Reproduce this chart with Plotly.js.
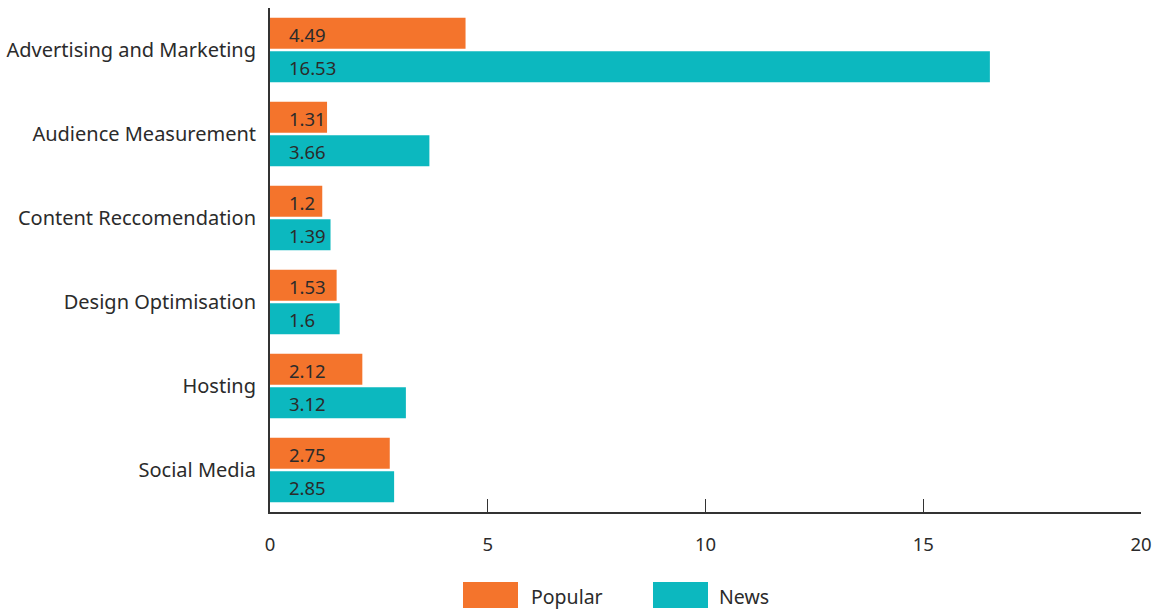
<!DOCTYPE html>
<html>
<head>
<meta charset="utf-8">
<script src="https://cdn.plot.ly/plotly-3.0.1.min.js"></script>
<style>html,body{margin:0;padding:0;background:#fff;}#chart{width:1156px;height:610px;}</style>
</head>
<body>
<div id="chart"></div>
<script>
const categories = ["Advertising and Marketing", "Audience Measurement", "Content Reccomendation", "Design Optimisation", "Hosting", "Social Media"];
const popular = [4.49, 1.31, 1.2, 1.53, 2.12, 2.75];
const news = [16.53, 3.66, 1.39, 1.6, 3.12, 2.85];
const seriesNames = ["Popular", "News"];
const xTicks = [0, 5, 10, 15, 20];

const orange = "#F4742C";
const teal = "#0CB8BF";
const textColor = "#2b2b2b";
const fontFamily = "'Noto Sans', 'Open Sans', sans-serif";

const traces = [
  {type: "bar", orientation: "h", name: seriesNames[0], y: categories, x: popular,
   marker: {color: orange}, hoverinfo: "x"},
  {type: "bar", orientation: "h", name: seriesNames[1], y: categories, x: news,
   marker: {color: teal}, hoverinfo: "x"}
];

const annotations = [];
const shiftPx = 16.8;
categories.forEach((c, i) => {
  annotations.push({x: 0, y: c, xref: "x", yref: "y", text: String(popular[i]), showarrow: false,
    xanchor: "left", yanchor: "middle", xshift: 17, yshift: shiftPx - 1,
    font: {family: fontFamily, size: 18.5, color: textColor}});
  annotations.push({x: 0, y: c, xref: "x", yref: "y", text: String(news[i]), showarrow: false,
    xanchor: "left", yanchor: "middle", xshift: 17, yshift: -shiftPx - 1,
    font: {family: fontFamily, size: 18.5, color: textColor}});
});

// manual legend (paper coords)
const plotL = 270, plotW = 871, plotT = 8, plotH = 504;
const px = v => (v - plotL) / plotW;
const py = v => (plotT + plotH - v) / plotH;
const legendItems = [
  {name: seriesNames[0], color: orange, x0: 463, x1: 518, tx: 529},
  {name: seriesNames[1], color: teal, x0: 653, x1: 708, tx: 717}
];
const shapes = [];
legendItems.forEach(it => {
  shapes.push({type: "rect", xref: "paper", yref: "paper", x0: px(it.x0), x1: px(it.x1),
    y0: py(608), y1: py(582), fillcolor: it.color, line: {width: 0}});
  annotations.push({xref: "paper", yref: "paper", x: px(it.tx), y: py(596), text: it.name,
    showarrow: false, xanchor: "left", yanchor: "middle",
    font: {family: fontFamily, size: 19.5, color: textColor}});
});

const layout = {
  width: 1156, height: 610,
  margin: {l: plotL, r: 15, t: plotT, b: 610 - plotT - plotH, pad: 0},
  paper_bgcolor: "#fff", plot_bgcolor: "#fff",
  barmode: "group", bargap: 0.2, bargroupgap: 0.08,
  showlegend: false,
  font: {family: fontFamily, size: 20, color: textColor},
  xaxis: {range: [0, 20], tickvals: xTicks, ticktext: xTicks.map(String),
    showgrid: false, zeroline: false, showline: true, linecolor: "#333", linewidth: 1.5,
    ticks: "inside", ticklen: 13, tickwidth: 1.2, tickcolor: "#333",
    ticklabelstandoff: 15, tickfont: {family: fontFamily, size: 18.5, color: textColor}, fixedrange: true},
  yaxis: {autorange: "reversed", showgrid: false, zeroline: false, showline: true,
    linecolor: "#333", linewidth: 2, ticks: "", ticklabelstandoff: 8,
    tickfont: {family: fontFamily, size: 20, color: textColor}, fixedrange: true},
  annotations: annotations,
  shapes: shapes
};

Plotly.newPlot("chart", traces, layout, {displayModeBar: false, staticPlot: true});
</script>
</body>
</html>
